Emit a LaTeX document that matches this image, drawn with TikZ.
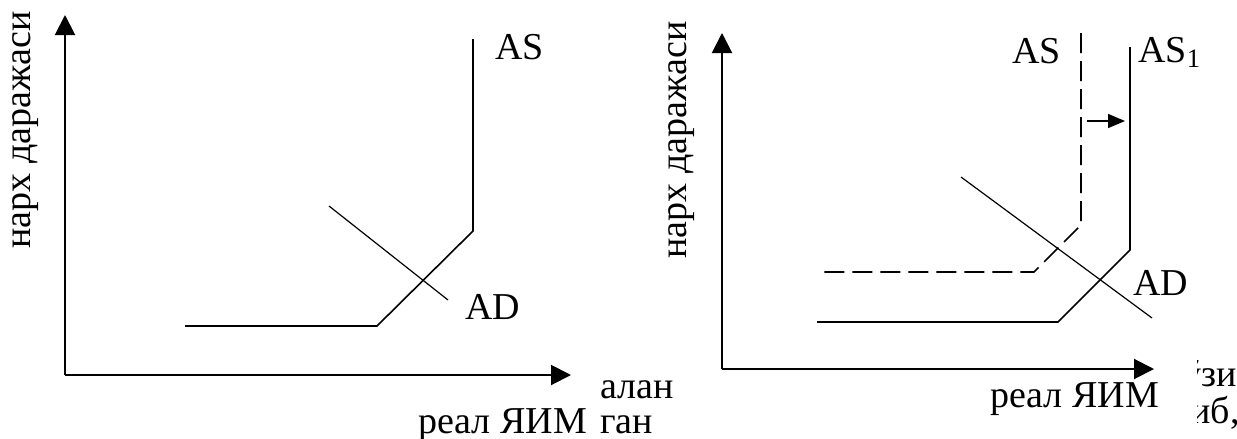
\documentclass[tikz,border=0pt]{standalone}
\usepackage{fontspec}
\setmainfont{Liberation Serif}
\usetikzlibrary{arrows.meta}
\begin{document}
\begin{tikzpicture}[x=0.5pt, y=-0.5pt,
  every node/.style={font=\fontsize{19pt}{22pt}\selectfont, inner sep=0pt},
  axis/.style={line width=1pt, -{Triangle[length=10pt, width=10pt]}},
  curve/.style={line width=0.8pt},
  dashcurve/.style={line width=0.8pt, dash pattern=on 10pt off 4pt},
  demand/.style={line width=0.6pt}]

\useasboundingbox (0,0) rectangle (1237,439);

% Axes for left graph
\coordinate (oL) at (65,375);
\coordinate (yL) at (65,15);
\coordinate (xL) at (571,375);
\draw[axis] (oL) -- (yL);
\draw[axis] (oL) -- (xL);
\node[rotate=90, anchor=base] (priceL) at (31,130) {нарх даражаси};
\node[anchor=base west] (gdpL) at (418,433) {реал ЯИМ};

% AS curve (left)
\coordinate (asTopL) at (473,39);
\coordinate (asKneeL) at (473,231);
\coordinate (asBendL) at (377,326);
\coordinate (asEndL) at (185,326);
\draw[curve] (asTopL) -- (asKneeL) -- (asBendL) -- (asEndL);
\node[anchor=base west] (asLabL) at (495,59) {AS};

% AD curve (left)
\coordinate (adTopL) at (329,206);
\coordinate (adEndL) at (448,300);
\draw[demand] (adTopL) -- (adEndL);
\node[anchor=base west] (adLabL) at (465,319) {AD};

% Axes for right graph
\coordinate (oR) at (722,369);
\coordinate (yR) at (722,33);
\coordinate (xR) at (1154,369);
\draw[axis] (oR) -- (yR);
\draw[axis] (oR) -- (xR);
\node[rotate=90, anchor=base] (priceR) at (686,140) {нарх даражаси};
\node[anchor=base west] (gdpR) at (990,407) {реал ЯИМ};

% Old AS curve (dashed)
\coordinate (asTopR) at (1081,33);
\coordinate (asKneeR) at (1081,225);
\coordinate (asBendR) at (1034,272);
\coordinate (asEndR) at (817,272);
\draw[dashcurve] (asTopR) -- (asKneeR) -- (asBendR) -- (asEndR);
\node[anchor=base west] (asLabR) at (1012,63) {AS};

% New AS curve (AS1)
\coordinate (asoneTop) at (1130,47);
\coordinate (asoneKnee) at (1130,250);
\coordinate (asoneBend) at (1058,322);
\coordinate (asoneEnd) at (817,322);
\draw[curve] (asoneTop) -- (asoneKnee) -- (asoneBend) -- (asoneEnd);
\node[anchor=base west] (asoneLab) at (1138,62) {AS\textsubscript{1}};

% Shift arrow
\coordinate (shiftA) at (1087,121);
\coordinate (shiftB) at (1125,121);
\draw[line width=0.8pt, -{Triangle[length=8.5pt, width=7pt]}] (shiftA) -- (shiftB);

% AD curve (right)
\coordinate (adTopR) at (961,177);
\coordinate (adEndR) at (1152,318);
\draw[demand] (adTopR) -- (adEndR);
\node[anchor=base west] (adLabR) at (1133,295) {AD};

% Text of the page around the graphs
\node[anchor=base west] (txtA) at (600,398) {алан};
\node[anchor=base west] (txtB) at (600,433) {ган};
\begin{scope}
  \clip (1197,350) rectangle (1237,439);
  \node[anchor=base east] (txtC) at (1237,386) {ўзи};
  \node[anchor=base east] (txtD) at (1240,423) {иб,};
\end{scope}

\end{tikzpicture}
\end{document}
